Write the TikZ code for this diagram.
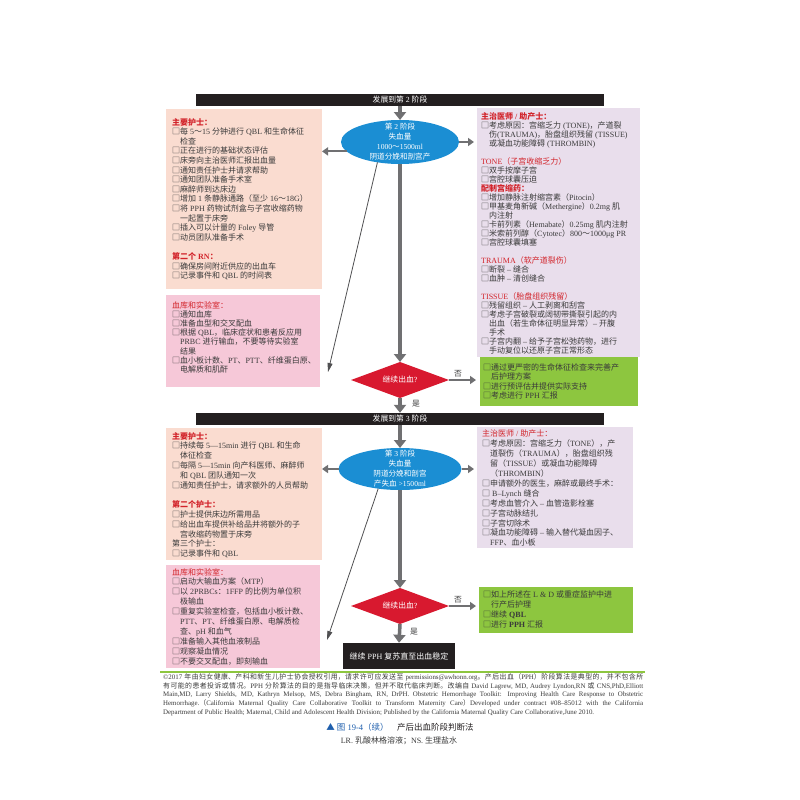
\documentclass[tikz,border=0pt]{standalone}
\usepackage{fontspec}
\setmainfont{Liberation Serif}
\newfontfamily\latfont{Liberation Serif}
\newfontfamily\cjkfont{Noto Sans CJK SC}
\usetikzlibrary{arrows.meta,shapes.geometric}
\definecolor{barblack}{HTML}{231F20}
\definecolor{ofill}{HTML}{FADCD0}
\definecolor{pkfill}{HTML}{F6C8D8}
\definecolor{pufill}{HTML}{E9DEEC}
\definecolor{gfill}{HTML}{8DC63F}
\definecolor{eblue}{HTML}{1B8ED3}
\definecolor{dred}{HTML}{D8192F}
\definecolor{hred}{HTML}{D2232A}
\definecolor{tgray}{HTML}{3A3A3A}
\definecolor{agray}{HTML}{707072}
\definecolor{lgray}{HTML}{505052}
\definecolor{capblue}{HTML}{1F5FAD}
\XeTeXinterchartokenstate=1
\newXeTeXintercharclass\CJKcls
\newcount\cjkcc
\def\setcjkrange#1#2{\cjkcc=#1\relax
  \loop\XeTeXcharclass\cjkcc=\CJKcls
  \ifnum\cjkcc<#2\relax\advance\cjkcc by 1\repeat}
\setcjkrange{"3000}{"303F}
\setcjkrange{"4E00}{"9FFF}
\setcjkrange{"FF00}{"FFEF}
\XeTeXcharclass"25A1=\CJKcls
\XeTeXcharclass"25B2=\CJKcls
\XeTeXcharclass"2013=0
\XeTeXcharclass"2014=0
\XeTeXinterchartoks 0 \CJKcls={\cjkfont}
\XeTeXinterchartoks 4095 \CJKcls={\cjkfont}
\XeTeXinterchartoks \CJKcls 0={\latfont}
\XeTeXinterchartoks \CJKcls 4095={\latfont}
\newcommand\ind{\hspace*{1em}}
\newcommand\hd[1]{{\color{hred}#1}}
\newcommand\hdb[1]{{\bfseries\color{hred}#1}}
\begin{document}
\begin{tikzpicture}[x=1pt,y=-1pt,
  bar/.style={fill=barblack, minimum width=408pt, minimum height=12pt, inner sep=0pt, text=white, font=\fontsize{7.8}{9}\selectfont},
  area/.style={anchor=north west, inner sep=0pt, outer sep=0pt},
  txt/.style={anchor=north west, inner sep=0pt, align=left, text=tgray},
  ell/.style={ellipse, fill=eblue, inner sep=0pt, outer sep=0pt},
  elltxt/.style={text=white, align=center, inner sep=0pt, font=\fontsize{7.6}{10}\selectfont},
  dia/.style={diamond, fill=dred, text=white, inner sep=0pt, outer sep=0pt, aspect=2.7, minimum width=98pt, minimum height=36pt, font=\fontsize{7.8}{9}\selectfont},
  bigarrow/.style={draw=agray, line width=3.5pt, -{Triangle[width=12pt,length=8pt]}},
  midarrow/.style={draw=agray, line width=2pt, -{Triangle[width=8pt,length=6pt]}},
  thinarrow/.style={draw=lgray, line width=0.8pt, -{Triangle[width=5pt,length=9pt]}},
  lab/.style={text=tgray, inner sep=0pt, font=\fontsize{7.8}{9}\selectfont}
]
\fill[white] (0,0) rectangle (800,800);
\useasboundingbox (0,0) rectangle (800,800);

% ---------- stage 2 ----------
\node[bar] (bar1) at (400,100) {发展到第 2 阶段};

\node[area, fill=ofill, minimum width=156pt, minimum height=180pt] (o1) at (166,109) {};
\node[txt, font=\fontsize{8}{9.6}\selectfont] (o1t) at (172,118) {%
\hdb{主要护士：}\\
□每 5～15 分钟进行 QBL 和生命体征\\
\ind 检查\\
□正在进行的基础状态评估\\
□床旁向主治医师汇报出血量\\
□通知责任护士并请求帮助\\
□通知团队准备手术室\\
□麻醉师到达床边\\
□增加 1 条静脉通路（至少 16～18G）\\
□将 PPH 药物试剂盒与子宫收缩药物\\
\ind 一起置于床旁\\
□插入可以计量的 Foley 导管\\
□动员团队准备手术\\[9.6pt]
\hdb{第二个 RN：}\\
□确保房间附近供应的出血车\\
□记录事件和 QBL 的时间表};

\node[area, fill=pufill, minimum width=163pt, minimum height=249pt] (p1) at (477,108) {};
\node[txt, font=\fontsize{8}{9}\selectfont] (p1t) at (481,112) {%
\hdb{主治医师 / 助产士：}\\
□考虑原因：宫缩乏力 (TONE)，产道裂\\
\ind 伤(TRAUMA)，胎盘组织残留 (TISSUE)\\
\ind 或凝血功能障碍 (THROMBIN)\\[9pt]
\hd{TONE（子宫收缩乏力）}\\
□双手按摩子宫\\
□宫腔球囊压迫\\
\hdb{配制宫缩药：}\\
□增加静脉注射缩宫素（Pitocin）\\
□甲基麦角新碱（Methergine）0.2mg 肌\\
\ind 内注射\\
□卡前列素（Hemabate）0.25mg 肌内注射\\
□米索前列醇（Cytotec）800～1000μg PR\\
□宫腔球囊填塞\\[9pt]
\hd{TRAUMA（软产道裂伤）}\\
□断裂 – 缝合\\
□血肿 – 清创缝合\\[9pt]
\hd{TISSUE（胎盘组织残留）}\\
□残留组织 – 人工剥离和刮宫\\
□考虑子宫破裂或阔韧带撕裂引起的内\\
\ind 出血（若生命体征明显异常）– 开腹\\
\ind 手术\\
□子宫内翻 – 给予子宫松弛药物，进行\\
\ind 手动复位以还原子宫正常形态};

\node[area, fill=pkfill, minimum width=154pt, minimum height=92pt] (k1) at (166,295) {};
\node[txt, font=\fontsize{8}{9.2}\selectfont] (k1t) at (172,301) {%
\hd{血库和实验室：}\\
□通知血库\\
□准备血型和交叉配血\\
□根据 QBL，临床症状和患者反应用\\
\ind PRBC 进行输血，不要等待实验室\\
\ind 结果\\
□血小板计数、PT、PTT、纤维蛋白原、\\
\ind 电解质和肌酐};

\node[ell, minimum width=118pt, minimum height=44pt] (e1) at (400,142) {};
\node[elltxt] (e1t) at (e1.center) {第 2 阶段\\失血量\\1000～1500ml\\阴道分娩和剖宫产};

\node[dia] (d1) at (400,380) {继续出血?};

\node[area, fill=gfill, minimum width=158pt, minimum height=49pt] (g1) at (480,357) {};
\node[txt, font=\fontsize{8}{9.6}\selectfont] (g1t) at (483,363) {%
□通过更严密的生命体征检查来完善产\\
\ind 后护理方案\\
□进行预评估并提供实际支持\\
□考虑进行 PPH 汇报};

\draw[bigarrow] (bar1.south) -- (e1.north);
\draw[bigarrow] (e1.south) -- (d1.north);
\draw[midarrow] (e1.190) -- (o1.east |- e1.190);
\draw[midarrow] (e1.east) -- ([xshift=-3pt]p1.west |- e1.east);
\coordinate (t1) at (328,372);
\draw[thinarrow] (e1.222) -- (t1);
\draw[midarrow] (d1.east) -- ([xshift=-4pt]g1.west |- d1.east);
\node[lab] (no1) at (458,374) {否};
\node[lab] (yes1) at (416,404) {是};

% ---------- stage 3 ----------
\node[bar] (bar2) at (400,419) {发展到第 3 阶段};
\draw[bigarrow] (d1.south) -- (bar2.north);

\node[area, fill=ofill, minimum width=156pt, minimum height=132pt] (o2) at (166,428) {};
\node[txt, font=\fontsize{8}{9.8}\selectfont] (o2t) at (172,432) {%
\hdb{主要护士：}\\
□持续每 5—15min 进行 QBL 和生命\\
\ind 体征检查\\
□每隔 5—15min 向产科医师、麻醉师\\
\ind 和 QBL 团队通知一次\\
□通知责任护士，请求额外的人员帮助\\[9.8pt]
\hdb{第二个护士：}\\
□护士提供床边所需用品\\
□给出血车提供补给品并将额外的子\\
\ind 宫收缩药物置于床旁\\
第三个护士：\\
□记录事件和 QBL};

\node[area, fill=pufill, minimum width=156pt, minimum height=121pt] (p2) at (477,427) {};
\node[txt, font=\fontsize{8}{9.9}\selectfont] (p2t) at (482,430) {%
\hd{主治医师 / 助产士：}\\
□考虑原因：宫缩乏力（TONE），产\\
\ind 道裂伤（TRAUMA），胎盘组织残\\
\ind 留（TISSUE）或凝血功能障碍\\
\ind （THROMBIN）\\
□申请额外的医生，麻醉或最终手术：\\
□ B–Lynch 缝合\\
□考虑血管介入 – 血管造影栓塞\\
□子宫动脉结扎\\
□子宫切除术\\
□凝血功能障碍 – 输入替代凝血因子、\\
\ind FFP、血小板};

\node[area, fill=pkfill, minimum width=154pt, minimum height=103pt] (k2) at (166,565) {};
\node[txt, font=\fontsize{8}{9.9}\selectfont] (k2t) at (172,568) {%
\hd{血库和实验室：}\\
□启动大输血方案（MTP）\\
□以 2PRBCs：1FFP 的比例为单位积\\
\ind 极输血\\
□重复实验室检查，包括血小板计数、\\
\ind PTT、PT、纤维蛋白原、电解质检\\
\ind 查、pH 和血气\\
□准备输入其他血液制品\\
□观察凝血情况\\
□不要交叉配血，即刻输血};

\node[ell, minimum width=123pt, minimum height=42pt] (e2) at (400,469) {};
\node[elltxt] (e2t) at (e2.center) {第 3 阶段\\失血量\\阴道分娩和剖宫\\产失血 >1500ml};

\node[dia] (d2) at (400,606) {继续出血?};

\node[area, fill=gfill, minimum width=154pt, minimum height=46pt] (g2) at (479,587) {};
\node[txt, font=\fontsize{8}{10}\selectfont] (g2t) at (483,591) {%
□如上所述在 L \& D 或重症监护中进\\
\ind 行产后护理\\
□继续 \textbf{QBL}\\
□进行 \textbf{PPH} 汇报};

\node[fill=barblack, text=white, minimum width=112pt, minimum height=26pt, inner sep=0pt, font=\fontsize{8}{9}\selectfont] (fin) at (399,656) {继续 PPH 复苏直至出血稳定};

\draw[bigarrow] (bar2.south) -- (e2.north);
\draw[bigarrow] (e2.south) -- (d2.north);
\draw[bigarrow] (d2.south) -- (fin.north);
\draw[midarrow] (e2.west) -- (o2.east |- e2.west);
\draw[midarrow] (e2.east) -- ([xshift=-3pt]p2.west |- e2.east);
\coordinate (t2) at (327,640);
\draw[thinarrow] (e2.222) -- (t2);
\draw[midarrow] (d2.east) -- ([xshift=-3pt]g2.west |- d2.east);
\node[lab] (no2) at (458,600) {否};
\node[lab] (yes2) at (414,632) {是};

% ---------- footer ----------
\draw[gfill, line width=1.2pt] (160,672) -- (645,672);
\node[anchor=north west, inner sep=0pt, text width=480pt, align=justify, text=tgray, font=\fontsize{6.9}{8.9}\selectfont] (foot) at (163,673) {\XeTeXlinebreaklocale "zh"\XeTeXlinebreakskip=0pt plus 0.8pt\relax
©2017 年由妇女健康、产科和新生儿护士协会授权引用，请求许可应发送至 permissions@awhonn.org。产后出血（PPH）阶段算法是典型的，并不包含所\linebreak
有可能的患者投诉或情况。PPH 分阶算法的目的是指导临床决策，但并不取代临床判断。改编自 David Lagrew, MD, Audrey Lyndon,RN 或 CNS,PhD,Elliott\linebreak
Main,MD, Larry Shields, MD, Kathryn Melsop, MS, Debra Bingham, RN, DrPH. Obstetric Hemorrhage Toolkit: Improving Health Care Response to Obstetric\linebreak
Hemorrhage.（California Maternal Quality Care Collaborative Toolkit to Transform Maternity Care）Developed under contract \#08–85012 with the California\linebreak
Department of Public Health; Maternal, Child and Adolescent Health Division; Published by the California Maternal Quality Care Collaborative,June 2010.};

\node[inner sep=0pt, font=\fontsize{8.5}{10}\selectfont] (cap) at (400,727) {\textcolor{capblue}{▲ 图 19-4（续）}\quad\textcolor{barblack}{产后出血阶段判断法}};
\node[inner sep=0pt, text=tgray, font=\fontsize{8}{9}\selectfont] (abbr) at (399,741) {LR. 乳酸林格溶液；NS. 生理盐水};
\end{tikzpicture}
\end{document}
